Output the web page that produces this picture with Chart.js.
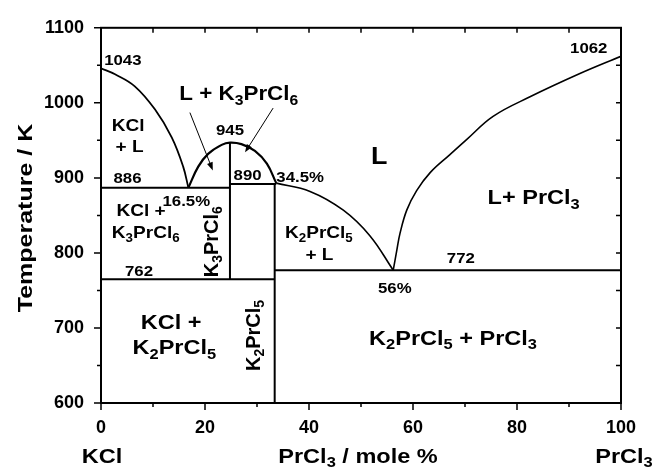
<!DOCTYPE html>
<html>
<head>
<meta charset="utf-8">
<script src="https://cdn.jsdelivr.net/npm/chart.js@4.4.1/dist/chart.umd.min.js"></script>
<style>
  html, body { margin: 0; padding: 0; background: #fff; }
  #wrap { width: 655px; height: 468px; }
</style>
</head>
<body>
<div id="wrap"><canvas id="chart" width="655" height="468"></canvas></div>
<script>
// phase boundaries (x = mole % PrCl3, T in K)
const kclLiqX = [0, 2.7, 6.5, 10.4, 13.6, 15.8, 16.8];
const kclLiqT = [1046, 1038, 1022, 991, 954, 915, 887];
const k3LiqX = [16.8, 18.7, 20.6, 23.2, 24.8, 27.0, 29.6, 31.9, 33.7];
const k3LiqT = [887, 915, 932, 944, 947, 945, 936, 919, 893];
const k2LiqX = [33.7, 40.2, 46.6, 51.7, 56.2];
const k2LiqT = [893, 882, 857, 823, 777];
const prLiqX = [56.2, 56.9, 57.5, 58.8, 60.7, 63.3, 67.1, 70.3, 75.4, 82.5, 92.1, 100];
const prLiqT = [777, 804, 826, 857, 883, 907, 931, 951, 982, 1008, 1039, 1062];

// horizontal invariant lines: [from x, to x] at T
const tieX = [[0, 24.8], [24.8, 33.7], [0, 33.4], [33.4, 100]];
const tieT = [887, 892, 765, 777];

// compounds K3PrCl6 and K2PrCl5 (vertical lines)
const compX = [24.8, 33.4];
const compTop = [947, 893];
const compBottom = [765, 600];

const xTicks = [0, 20, 40, 60, 80, 100];
const yTicks = [600, 700, 800, 900, 1000, 1100];

// text in the diagram: [text, x, T, font size, rotation]
const labels = [
  ['1043', 4.2, 1057, 15, 0],
  ['1062', 93.8, 1074, 15, 0],
  ['L + K_3PrCl_6', 26.5, 1013, 20, 0],
  ['945', 24.8, 965, 15, 0],
  ['KCl', 5.2, 970, 17, 0],
  ['+ L', 5.5, 943, 17, 0],
  ['886', 5.1, 900, 15, 0],
  ['890', 28.2, 905, 15, 0],
  ['34.5%', 38.3, 902, 15, 0],
  ['16.5%', 16.4, 870, 15, 0],
  ['KCl +', 7.7, 857, 17, 0],
  ['K_3PrCl_6', 8.6, 828, 17, 0],
  ['762', 7.3, 777, 15, 0],
  ['K_3PrCl_6', 21.1, 815, 20, -90],
  ['K_2PrCl_5', 29.1, 690, 20, -90],
  ['K_2PrCl_5', 41.9, 828, 17, 0],
  ['+ L', 42.0, 799, 17, 0],
  ['56%', 56.5, 754, 15, 0],
  ['772', 69.2, 794, 15, 0],
  ['L', 53.5, 930, 24, 0],
  ['L+ PrCl_3', 83.2, 875, 21, 0],
  ['KCl +', 13.5, 709, 21, 0],
  ['K_2PrCl_5', 14.1, 675, 21, 0],
  ['K_2PrCl_5 + PrCl_3', 67.7, 688, 21, 0]
];

// arrows from the "L + K3PrCl6" label: [x0, T0, x1, T1]
const arrows = [
  [17.1, 987, 21.5, 910],
  [33.1, 993, 27.7, 934]
];

const FONT = '"Liberation Sans", Arial, sans-serif';
const STRETCH = 1.12;

// draws text with "_n" as a subscript, centred on (x, y) at cap height
function drawRich(ctx, str, x, y, size, rot, stretch = STRETCH) {
  const segs = str.split(/_(\d)/);
  const subSize = size * 0.7;
  let w = 0;
  segs.forEach((s, i) => {
    ctx.font = 'bold ' + (i % 2 ? subSize : size) + 'px ' + FONT;
    w += ctx.measureText(s).width;
  });
  ctx.save();
  ctx.translate(x, y);
  ctx.rotate(rot * Math.PI / 180);
  ctx.scale(stretch, 1);
  ctx.fillStyle = '#000';
  ctx.textBaseline = 'alphabetic';
  ctx.textAlign = 'left';
  let cx = -w / 2;
  const base = size * 0.36;
  segs.forEach((s, i) => {
    const sub = i % 2 === 1;
    ctx.font = 'bold ' + (sub ? subSize : size) + 'px ' + FONT;
    ctx.fillText(s, cx, sub ? base + size * 0.22 : base);
    cx += ctx.measureText(s).width;
  });
  ctx.restore();
}

const decor = {
  id: 'decor',
  afterDatasetsDraw(chart) {
    const { ctx, chartArea: a, scales: { x, y } } = chart;
    ctx.save();
    ctx.strokeStyle = '#000';

    // frame
    ctx.lineWidth = 2;
    ctx.strokeRect(a.left, a.top, a.right - a.left, a.bottom - a.top);

    // ticks
    ctx.lineWidth = 1.5;
    ctx.beginPath();
    for (let v = 600; v <= 1100; v += 50) {
      const p = y.getPixelForValue(v);
      const len = v % 100 === 0 ? 7 : 4;
      ctx.moveTo(a.left, p); ctx.lineTo(a.left - len, p);
      if (v > 600 && v < 1100) { ctx.moveTo(a.right, p); ctx.lineTo(a.right - 5, p); }
    }
    for (let v = 0; v <= 100; v += 10) {
      const p = x.getPixelForValue(v);
      const len = v % 20 === 0 ? 7 : 4;
      ctx.moveTo(p, a.bottom); ctx.lineTo(p, a.bottom + len);
      if (v > 0 && v < 100) { ctx.moveTo(p, a.top); ctx.lineTo(p, a.top + 5); }
    }
    ctx.stroke();

    // arrows
    ctx.lineWidth = 1;
    ctx.fillStyle = '#000';
    arrows.forEach(([x0, t0, x1, t1]) => {
      const ax = x.getPixelForValue(x0), ay = y.getPixelForValue(t0);
      const bx = x.getPixelForValue(x1), by = y.getPixelForValue(t1);
      const ang = Math.atan2(by - ay, bx - ax);
      ctx.beginPath();
      ctx.moveTo(ax, ay); ctx.lineTo(bx - 6 * Math.cos(ang), by - 6 * Math.sin(ang));
      ctx.stroke();
      ctx.beginPath();
      ctx.moveTo(bx, by);
      ctx.lineTo(bx - 8 * Math.cos(ang) + 3 * Math.sin(ang), by - 8 * Math.sin(ang) - 3 * Math.cos(ang));
      ctx.lineTo(bx - 8 * Math.cos(ang) - 3 * Math.sin(ang), by - 8 * Math.sin(ang) + 3 * Math.cos(ang));
      ctx.closePath();
      ctx.fill();
    });

    // labels inside the plot (rotated ones are not stretched)
    labels.forEach(([t, lx, ly, size, rot]) => {
      drawRich(ctx, t, x.getPixelForValue(lx), y.getPixelForValue(ly), size, rot, rot ? 1 : STRETCH);
    });

    // axis titles
    drawRich(ctx, 'Temperature / K', 24, 218, 21, -90, 1.19);
    drawRich(ctx, 'KCl', 102, 455, 21, 0);
    drawRich(ctx, 'PrCl_3 / mole %', 358, 455, 21, 0);
    drawRich(ctx, 'PrCl_3', 624, 455, 21, 0);
    ctx.restore();
  }
};

const line = (xs, ts, w, tension = 0) => ({
  data: xs.map((v, i) => ({ x: v, y: ts[i] })),
  showLine: true,
  borderColor: '#000',
  borderWidth: w,
  pointRadius: 0,
  tension,
  fill: false
});

const datasets = [
  line(kclLiqX, kclLiqT, 1.8, 0.4),
  line(k3LiqX, k3LiqT, 2.2, 0.4),
  line(k2LiqX, k2LiqT, 1.6, 0.4),
  line(prLiqX, prLiqT, 1.6, 0.4)
];
tieX.forEach((xs, i) => datasets.push(line(xs, [tieT[i], tieT[i]], 2)));
compX.forEach((cx, i) => datasets.push(line([cx, cx], [compTop[i], compBottom[i]], 2)));

new Chart(document.getElementById('chart'), {
  type: 'scatter',
  data: { datasets },
  options: {
    responsive: false,
    animation: false,
    devicePixelRatio: 1,
    layout: { padding: { left: 0, right: 34, top: 21, bottom: 0 } },
    plugins: { legend: { display: false }, tooltip: { enabled: false } },
    scales: {
      x: {
        type: 'linear',
        min: 0,
        max: 100,
        afterBuildTicks: (s) => { s.ticks = xTicks.map((v) => ({ value: v })); },
        afterFit: (s) => { s.height = 65; },
        grid: { display: false, drawTicks: false },
        border: { display: false },
        ticks: {
          color: '#000',
          padding: 14,
          callback: (v) => String(v),
          font: { family: FONT, size: 18, weight: 'bold' }
        }
      },
      y: {
        min: 600,
        max: 1100,
        afterBuildTicks: (s) => { s.ticks = yTicks.map((v) => ({ value: v })); },
        afterFit: (s) => { s.width = 101; },
        grid: { display: false, drawTicks: false },
        border: { display: false },
        ticks: {
          color: '#000',
          padding: 17,
          callback: (v) => String(v),
          font: { family: FONT, size: 18, weight: 'bold' }
        }
      }
    }
  },
  plugins: [decor]
});
</script>
</body>
</html>
